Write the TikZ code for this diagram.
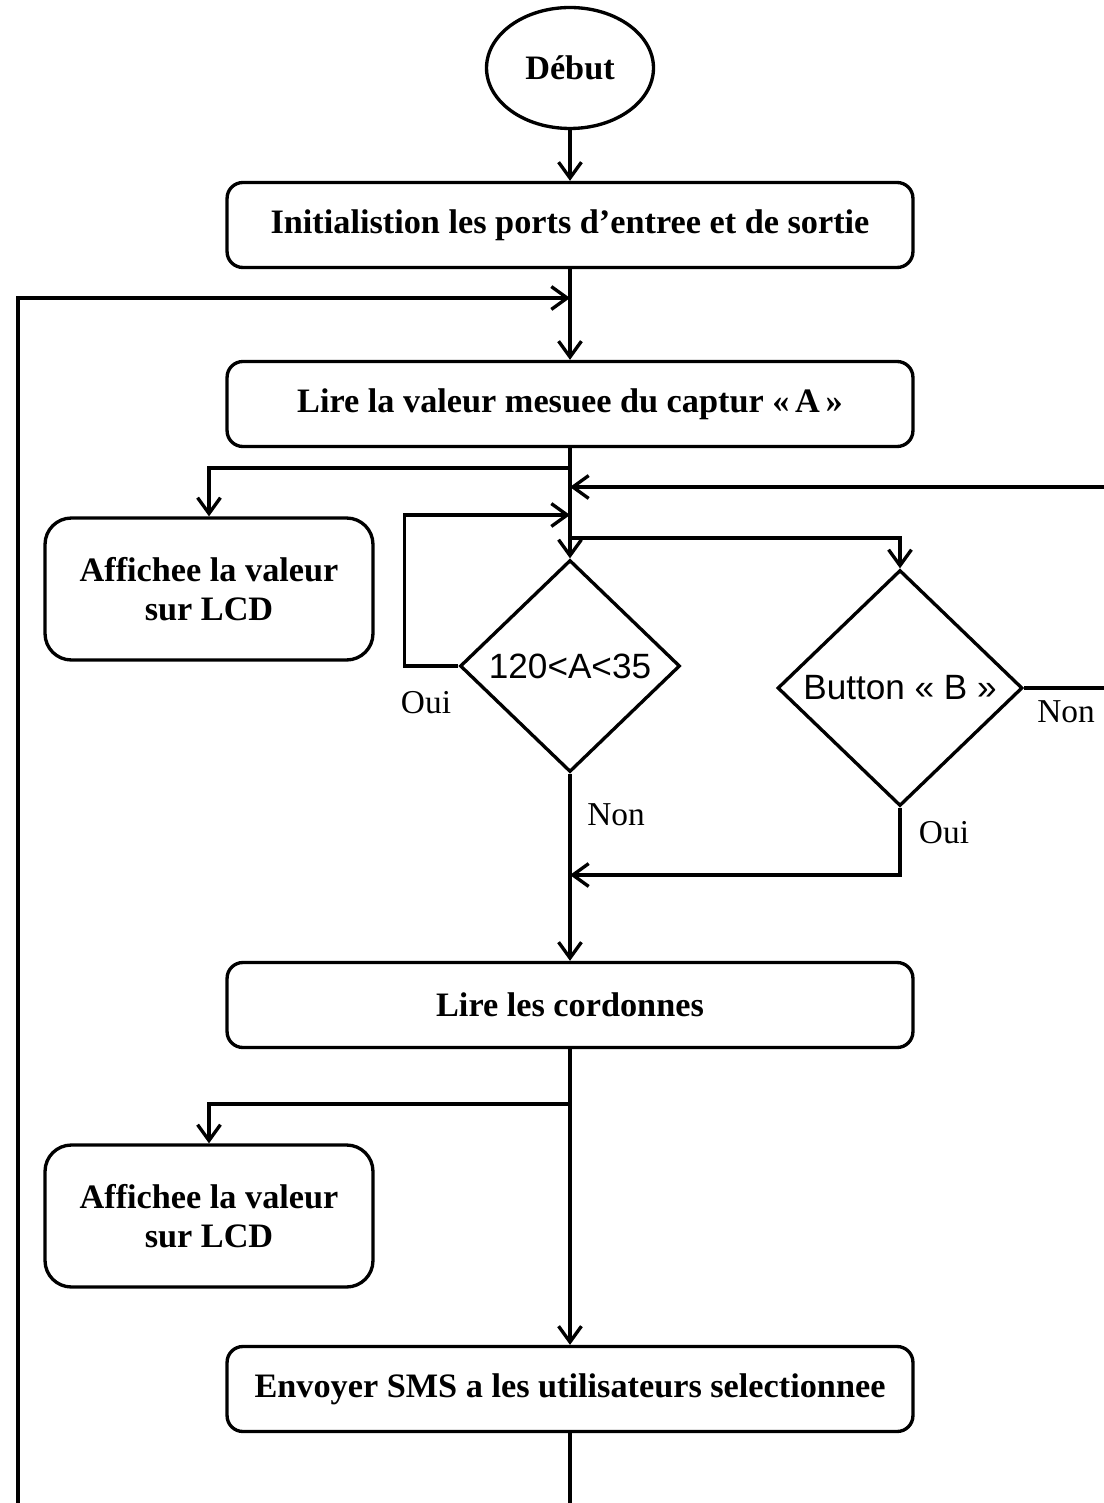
\documentclass[tikz,border=0pt]{standalone}
\usepackage{fontspec}
\setmainfont{Liberation Serif}
\newfontfamily\arialfont{Liberation Sans}
\usetikzlibrary{shapes.geometric,arrows.meta,positioning}

\begin{document}
\begin{tikzpicture}[x=0.02cm,y=-0.02cm,>={Straight Barb[length=9pt,width=13pt]},line width=1.9pt,
					base node/.style={draw,align=center,font=\bfseries\fontsize{19.5}{22.5}\selectfont},
					proc node/.style={base node,rectangle,rounded corners=9pt,minimum width=13.72cm,minimum height=1.7cm},
					lcd node/.style={base node,rectangle,rounded corners=15pt,minimum width=6.56cm,minimum height=2.84cm},
					test node/.style={draw,diamond,inner sep=0pt,font=\arialfont\fontsize{20}{24}\selectfont},
					label node/.style={font=\fontsize{19}{22}\selectfont}]

				\useasboundingbox (0,0) rectangle (1104,1503);

				\node[base node,ellipse,minimum width=3.34cm,minimum height=2.42cm] (debut) at (570,68) {Début};
				\node[proc node] (init) at (570,225) {Initialistion les ports d’entree et de sortie};
				\node[proc node] (lire) at (570,404) {Lire la valeur mesuee du captur «\,A\,»};
				\node[lcd node] (lcd1) at (209,589) {Affichee la valeur\\sur LCD};
				\node[test node,minimum width=4.4cm,minimum height=4.24cm] (testA) at (570,666) {120<A<35};
				\node[test node,minimum width=4.9cm,minimum height=4.72cm] (testB) at (900,688) {Button « B »};
				\node[proc node] (cord) at (570,1005) {Lire les cordonnes};
				\node[lcd node] (lcd2) at (209,1216) {Affichee la valeur\\sur LCD};
				\node[proc node] (sms) at (570,1389) {Envoyer SMS a les utilisateurs selectionnee};

				\coordinate (j1) at (570,298);
				\coordinate (j2) at (570,468);
				\coordinate (j3) at (570,487);
				\coordinate (j4) at (570,515);
				\coordinate (j5) at (570,538);
				\coordinate (j6) at (570,875);
				\coordinate (j7) at (570,1104);

				\draw[->] (debut) -- (init);
				\draw[->] (init) -- (lire);
				\draw[->] (lire) -- (testA);
				\draw[->] (j2) -| (lcd1);
				\draw[->] (testB.east) -- ++(100,0) |- (j3);
				\draw[->] (testA.west) -- ++(-54,0) |- (j4);
				\draw[->] (j5) -| (testB);
				\draw[->] (testA) -- (cord);
				\draw[->] (testB.south) |- (j6);
				\draw[->] (cord) -- (sms);
				\draw[->] (j7) -| (lcd2);
				\draw[->] (sms.south) -- ++(0,120) -| (18,298) -- (j1);

				\node[label node] (ouiA) at (426,703) {Oui};
				\node[label node] (nonA) at (616,815) {Non};
				\node[label node] (nonB) at (1066,712) {Non};
				\node[label node] (ouiB) at (944,833) {Oui};
			\end{tikzpicture}
\end{document}
